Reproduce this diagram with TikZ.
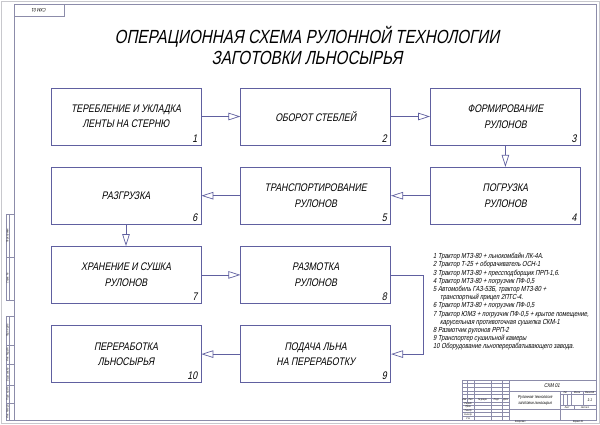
\documentclass[tikz,border=0pt]{standalone}
\usepackage{fontspec}
\setmainfont{Liberation Sans}[FakeSlant=0.2,FakeStretch=0.8]
\usetikzlibrary{arrows.meta,positioning}
\definecolor{lineblue}{RGB}{96,96,160}
\definecolor{framegray}{RGB}{140,140,170}
\definecolor{edgegray}{RGB}{200,200,205}

\begin{document}
\begin{tikzpicture}[
  x=1pt, y=-1pt,
  node distance=21.5pt and 39pt,
  box/.style={draw=lineblue, line width=0.7pt, minimum height=57pt, minimum width=150pt,
              inner sep=0pt, align=center, font=\fontsize{11}{15.5}\selectfont},
  num/.style={font=\fontsize{11}{11}\selectfont, inner sep=0pt, anchor=south east},
  arr/.style={-{Triangle[open, length=12pt, width=7.5pt]}, lineblue, line width=0.7pt},
  ttl/.style={align=center, font=\fontsize{19}{20.5}\selectfont},
  lgd/.style={align=left, font=\fontsize{7.3}{8.2}\selectfont, inner sep=0pt, anchor=north west},
  frm/.style={draw=framegray, line width=0.5pt},
  tiny/.style={font=\fontsize{2.6}{3}\selectfont, inner sep=0pt}
]
\useasboundingbox (0,0) rectangle (600,424);
\draw[edgegray, line width=1pt] (1,1) rectangle (599,423);
\draw[frm, line width=0.7pt] (14,4) rectangle (596,420);

% stamp, strip, title block
\draw[frm] (14,4) rectangle (64,16);
\node[tiny, font=\fontsize{5}{5}\selectfont, rotate=180] (stamp) at (39,10) {СХМ 01};

\draw[frm] (6,214) rectangle (14,300);
\draw[frm] (6,316) rectangle (14,420);
\draw[frm] (9.6,214) -- (9.6,300) (9.6,316) -- (9.6,420);
\foreach \y in {257,345,364,385,403} \draw[frm] (6,\y) -- (14,\y);
\foreach \y/\t [count=\i] in {235.5/Перв. примен., 278.5/Справ. №, 330.5/Подп. и дата,
    354.5/Инв. № дубл., 374.5/Взам. инв. №, 394/Подп. и дата, 411.5/Инв. № подл.}
  \node[tiny, rotate=90] (side\i) at (7.8,\y) {\t};

\draw[frm] (462,380) rectangle (596,420);
\foreach \k in {1,...,10} \draw[frm] (462,{380+3.636*\k}) -- (509.2,{380+3.636*\k});
\draw[frm] (467.1,380) -- (467.1,401.8);
\foreach \x in {474.3,491,501.9,509.2} \draw[frm] (\x,380) -- (\x,420);
\draw[frm] (509.2,390.9) -- (596,390.9) (509.2,409.1) -- (596,409.1);
\draw[frm] (559.9,390.9) -- (559.9,420);
\draw[frm] (559.9,394.5) -- (596,394.5) (559.9,405.5) -- (596,405.5);
\draw[frm] (570.8,390.9) -- (570.8,405.5) (583.1,390.9) -- (583.1,405.5);
\draw[frm] (563.5,394.5) -- (563.5,405.5) (567.2,394.5) -- (567.2,405.5);
\draw[frm] (574.4,405.5) -- (574.4,409.1);
\node[tiny, font=\fontsize{5.5}{6}\selectfont] (code) at (552,385.5) {СХМ 01};
\node[tiny, font=\fontsize{4.3}{6}\selectfont, align=center] (name) at (535,400) {Рулонная технология\\заготовки льносырья};
\foreach \x/\t [count=\i] in {464.5/Изм., 470.7/Лист, 482.6/№ докум., 496.5/Подп., 505.5/Дата}
  \node[tiny] (head\i) at (\x,400) {\t};
\foreach \y/\t [count=\i] in {403.6/Разраб., 407.3/Пров., 410.9/Т.контр., 414.5/Н.контр., 418.2/Утв.}
  \node[tiny] (role\i) at (468.2,\y) {\t};
\foreach \x/\t [count=\i] in {565.3/Лит., 577/Масса, 589.6/Масштаб, 567/Лист, 585/Листов 1}
  \node[tiny] (cell\i) at (\x,{\i<4 ? 392.7 : 407.3}) {\t};
\node[tiny, font=\fontsize{4}{5}\selectfont] (scale) at (589.6,400) {1:1};
\node[tiny] (copied) at (520,422) {Копировал};
\node[tiny] (format) at (578,422) {Формат А1};

\node[ttl] (title) at (307,45.5) {ОПЕРАЦИОННАЯ СХЕМА РУЛОННОЙ ТЕХНОЛОГИИ\\ЗАГОТОВКИ ЛЬНОСЫРЬЯ};

\node[box] (pull) at (126,116.5) {ТЕРЕБЛЕНИЕ И УКЛАДКА\\ЛЕНТЫ НА СТЕРНЮ};
\node[box, right=of pull] (turn) {ОБОРОТ СТЕБЛЕЙ};
\node[box, right=of turn] (form) {ФОРМИРОВАНИЕ\\РУЛОНОВ};
\node[box, below=of form] (load) {ПОГРУЗКА\\РУЛОНОВ};
\node[box, below=of turn] (haul) {ТРАНСПОРТИРОВАНИЕ\\РУЛОНОВ};
\node[box, below=of pull] (unload) {РАЗГРУЗКА};
\node[box, below=of unload] (store) {ХРАНЕНИЕ И СУШКА\\РУЛОНОВ};
\node[box, below=of haul] (unwind) {РАЗМОТКА\\РУЛОНОВ};
\node[box, below=of unwind] (feed) {ПОДАЧА ЛЬНА\\НА ПЕРЕРАБОТКУ};
\node[box, below=of store] (proc) {ПЕРЕРАБОТКА\\ЛЬНОСЫРЬЯ};

\foreach \b/\k in {pull/1, turn/2, form/3, load/4, haul/5, unload/6, store/7, unwind/8, feed/9, proc/10}
  \node[num] (n\k) at ([shift={(-4pt,3pt)}]\b.south east) {\k};

\draw[arr] (pull) -- (turn);
\draw[arr] (turn) -- (form);
\draw[arr] (form) -- (load);
\draw[arr] (load) -- (haul);
\draw[arr] (haul) -- (unload);
\draw[arr] (unload) -- (store);
\draw[arr] (store) -- (unwind);
\draw[arr] (unwind.east) -- ++(32,0) |- (feed.east);
\draw[arr] (feed) -- (proc);

\node[lgd] (legend) at (433,253) {1 Трактор МТЗ-80 + льнокомбайн ЛК-4А.\\
2 Трактор Т-25 + оборачиватель ОСН-1\\
3 Трактор МТЗ-80 + прессподборщик ПРП-1,6.\\
4 Трактор МТЗ-80 + погрузчик ПФ-0,5\\
5 Автомобиль ГАЗ-53Б, трактор МТЗ-80 +\\
\hspace*{7pt}транспортный прицеп 2ПТС-4.\\
6 Трактор МТЗ-80 + погрузчик ПФ-0,5\\
7 Трактор ЮМЗ + погрузчик ПФ-0,5 + крытое помещение,\\
\hspace*{7pt}карусельная противоточная сушилка СКМ-1\\
8 Размотчик рулонов РРП-2\\
9 Транспортер сушильной камеры\\
10 Оборудование льноперерабатывающего завода.};
\end{tikzpicture}
\end{document}
